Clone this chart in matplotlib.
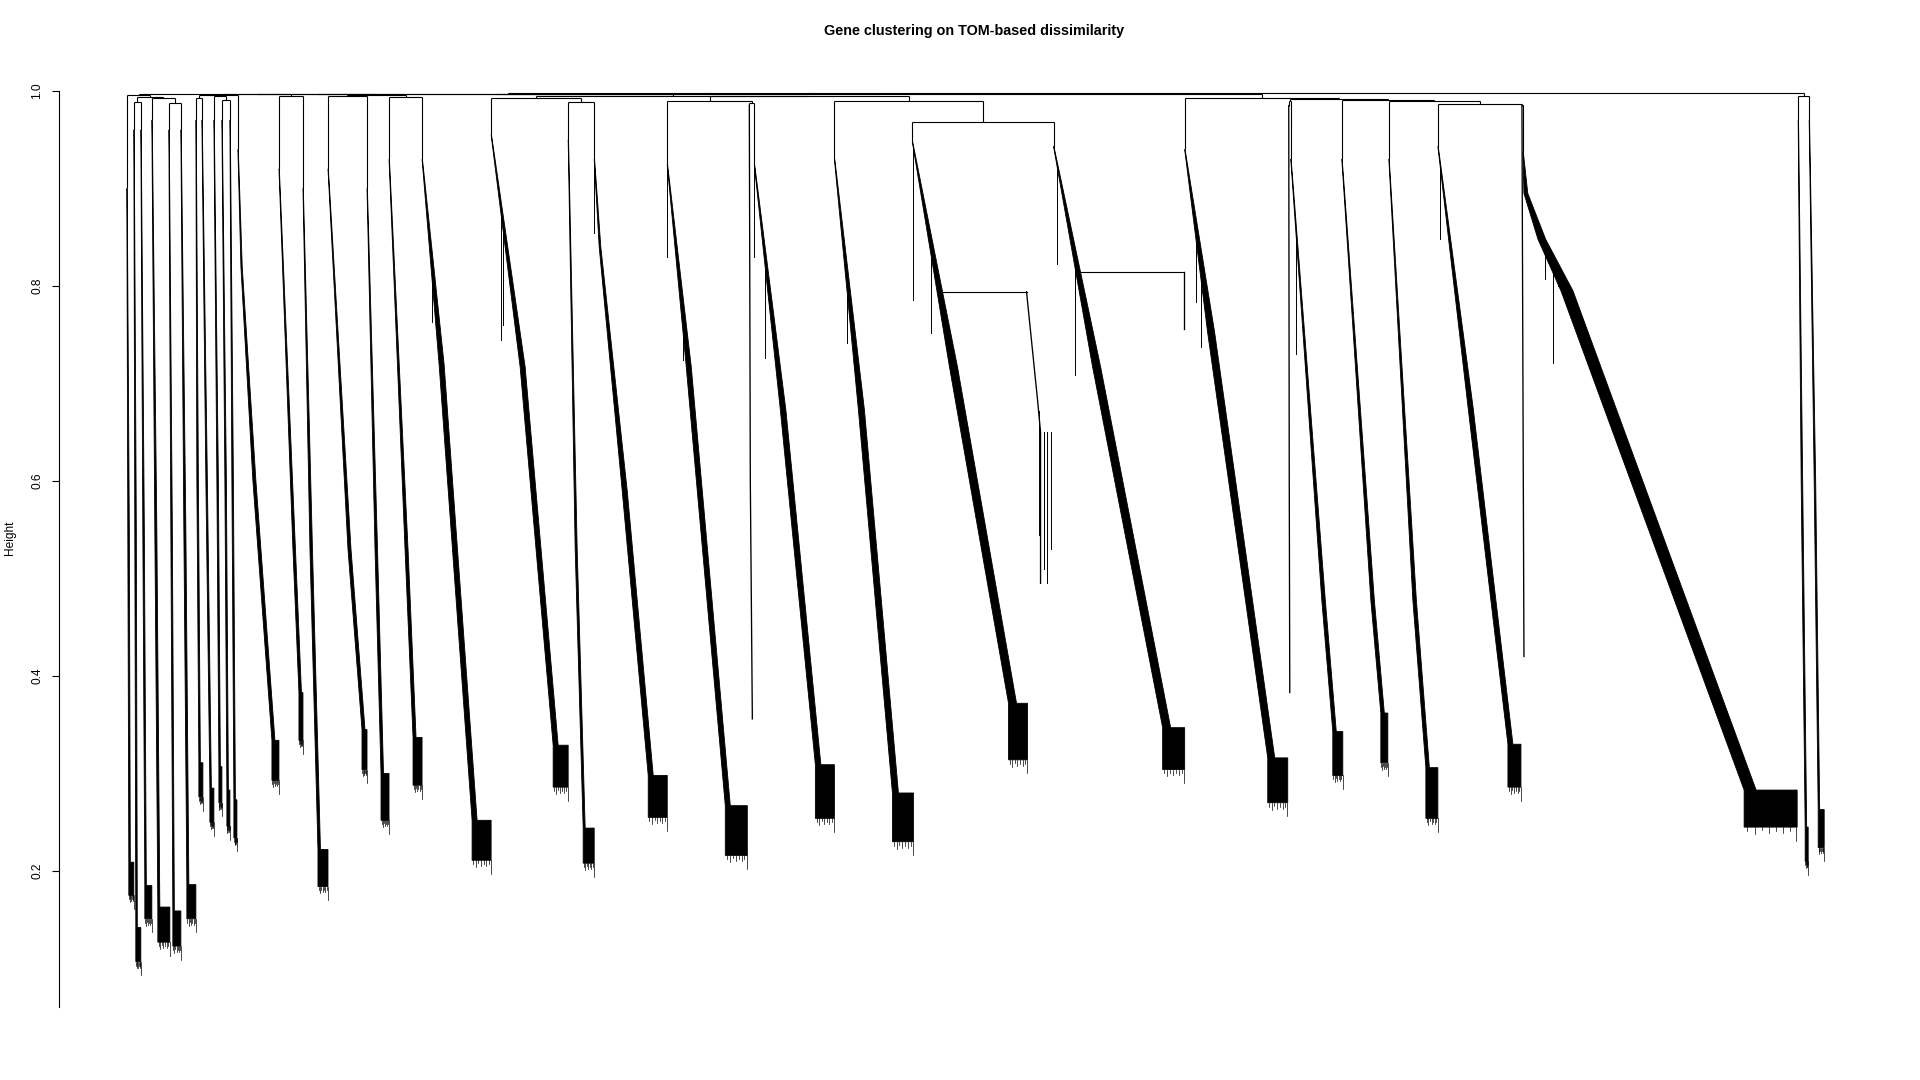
import numpy as np
import matplotlib
matplotlib.use("Agg")
import matplotlib.pyplot as plt
from matplotlib.patches import Polygon

plt.rcParams['font.family'] = ['Liberation Sans', 'DejaVu Sans']

title = "Gene clustering on TOM-based dissimilarity"
y_label = "Height"
y_ticks = [0.2, 0.4, 0.6, 0.8, 1.0]
y_tick_labels = ["0.2", "0.4", "0.6", "0.8", "1.0"]
n_genes = 1695

# ---- modules (gene-order positions and heights) ----
mod_names = ["A", "B", "C", "D", "E", "F", "G", "H", "I", "J", "K", "L", "M", "N", "O",
             "P", "Q", "R", "S", "T", "U", "V", "W", "X", "Y", "Z", "Zs", "AA", "AAs",
             "AB", "AC", "AD", "AE", "AF", "AG", "AH", "BIG", "R35", "R36"]
mod_x = [0, 7, 14, 25, 42, 54, 69, 75, 87, 95, 103, 111, 152, 176, 201,
         240, 262, 295, 364, 441, 467, 540, 622, 627, 707, 785, 899, 926, 1056,
         1057, 1161, 1163, 1214, 1261, 1310, 1394, 1395, 1670, 1681]
mod_top = [0.90, 0.96, 0.96, 0.97, 0.96, 0.96, 0.97, 0.97, 0.97, 0.97, 0.97, 0.94, 0.92, 0.90, 0.92,
           0.90, 0.93, 0.93, 0.955, 0.95, 0.93, 0.924, 0.985, 0.924, 0.93, 0.947, 0.794, 0.943, 0.814,
           0.94, 0.985, 0.93, 0.93, 0.93, 0.943, 0.985, 0.937, 0.97, 0.97]
mod_mid_x = [1, 8, 16, 28, 44, 57, 70, 79, 90, 98, 105, 126, 166, 183, 221,
             248, 278, 312, 393, 448, 495, 559, 623, 653, 731, 822, 910, 965, 1056,
             1080, 1161.5, 1194, 1243, 1285, 1340, 1395, 1433, 1673, 1686]
mod_mid_h = [0.55, 0.55, 0.55, 0.55, 0.55, 0.55, 0.60, 0.60, 0.60, 0.60, 0.60, 0.60, 0.53, 0.53, 0.53,
             0.53, 0.53, 0.72, 0.717, 0.53, 0.59, 0.717, 0.60, 0.673, 0.673, 0.717, 0.683, 0.717, 0.78,
             0.752, 0.60, 0.478, 0.478, 0.478, 0.677, 0.70, 0.795, 0.60, 0.60]
mod_knee_x = [2, 9, 18, 31, 46, 60, 72, 83, 92, 100, 107, 145, 172, 191, 235,
              254, 286, 345, 426, 456, 521, 598, 625, 688, 765, 881, 913, 1035, 1056,
              1140, 1162, 1205, 1253, 1298, 1380, 1396, 1616, 1677, 1690]
mod_knee_h = [0.209, 0.142, 0.185, 0.163, 0.159, 0.186, 0.311, 0.285, 0.307, 0.283, 0.273, 0.334, 0.383, 0.222, 0.345,
              0.300, 0.337, 0.252, 0.329, 0.244, 0.298, 0.267, 0.360, 0.309, 0.280, 0.372, 0.650, 0.347, 0.757,
              0.316, 0.390, 0.343, 0.362, 0.306, 0.330, 0.425, 0.283, 0.245, 0.263]
mod_right_x = [7, 14, 25, 43, 54, 69, 76, 87, 95, 103, 110, 152, 176, 201, 240,
               262, 295, 364, 441, 467, 540, 620, 625, 707, 786, 900, 913, 1057, 1056,
               1160, 1162, 1215, 1260, 1310, 1393, 1396, 1669, 1680, 1696]
mod_bottom_h = [0.175, 0.107, 0.151, 0.127, 0.123, 0.151, 0.276, 0.250, 0.270, 0.246, 0.234, 0.293, 0.334, 0.184, 0.304,
                0.252, 0.288, 0.211, 0.286, 0.208, 0.255, 0.216, 0.356, 0.254, 0.230, 0.314, 0.495, 0.304, 0.756,
                0.270, 0.383, 0.298, 0.311, 0.254, 0.286, 0.420, 0.245, 0.210, 0.224]
mod_band = [1.5, 1.5, 1.5, 2, 1.5, 2, 1.5, 1.5, 1.5, 1.5, 1.5, 3, 2.5, 2.5, 3,
            2.5, 3, 5, 5, 2, 5, 5, 0, 5.5, 6, 8, 0, 8, 0,
            7, 0, 3.5, 3.5, 3.5, 5, 0, 12, 1.5, 1.5]

# extra bends in the upper part of a band
bend_module = [36, 36, 11, 20]
bend_x = [1396, 1410, 114, 472]
bend_h = [0.895, 0.848, 0.82, 0.84]

# ---- tree above the modules (R hclust convention: negative = module) ----
merge_a = [-2, -5, -4, 1, -1, -7, -10, -9, 6, -20, -23, -22, -26, -25, -31, -36, -35, -34,
           -33, 15, -30, 9, -13, 22, -15, -17, 25, 24, -19, 12, 29, 28, 32, 5, -38, 34]
merge_b = [-3, -6, 2, 3, 4, -8, -11, 7, 8, -21, -24, 11, -28, 13, -32, -37, 16, 17,
           18, 19, 20, -12, -14, 23, -16, -18, 26, 27, 10, 14, 30, 31, 21, 33, -39, 35]
merge_h = [0.989, 0.988, 0.993, 0.994, 0.996, 0.993, 0.991, 0.995, 0.996, 0.989, 0.988, 0.990,
           0.968, 0.990, 0.990, 0.986, 0.987, 0.990, 0.991, 0.992, 0.993, 0.9962, 0.995, 0.9964,
           0.995, 0.994, 0.996, 0.9966, 0.993, 0.9945, 0.9952, 0.9968, 0.997, 0.9972, 0.995, 0.9975]

# side branches hanging off a module band
side_module = [26, 28]
side_from_x = [814, 948]

# stray hanging lines off the bands: module, x, lowest height
hair_module = [17, 18, 18, 20, 20, 21, 21, 23, 23, 24, 25, 25, 27, 27, 29, 29, 31, 32, 34, 36, 36, 36,
               26, 26, 26, 26]
hair_x = [305, 374, 376, 485, 467, 540, 556, 627, 638, 720, 786, 804, 929, 947, 1068, 1073, 1168, 1221, 1312, 1417, 1425, 1430,
          911, 916, 919, 923]
hair_low = [0.763, 0.745, 0.76, 0.71, 0.854, 0.83, 0.724, 0.83, 0.726, 0.742, 0.786, 0.752, 0.823, 0.709, 0.784, 0.737, 0.73, 0.83, 0.848, 0.807, 0.721, 0.80,
            0.545, 0.51, 0.495, 0.53]

# ---------------------------------------------------------------------------
fig = plt.figure(figsize=(19.2, 10.8), dpi=100)
W, H = 1920, 1080
ax = fig.add_axes([59 / W, 1 - 1007 / H, (1890 - 59) / W, (1007 - 59) / H])
pad = 0.04 * (n_genes - 1)
ax.set_xlim(-pad, n_genes - 1 + pad)
ax.set_ylim(0.0605, 1.0328)

lw = 0.8
col = "black"

n_merge = len(merge_h)
node_x = {}


def get_x(i):
    if i < 0:
        return mod_x[-i - 1]
    return node_x[i]


def get_h(i):
    if i < 0:
        return mod_top[-i - 1]
    return merge_h[i - 1]


for k in range(n_merge):
    node_x[k + 1] = (get_x(merge_a[k]) + get_x(merge_b[k])) / 2.0

for k in range(n_merge):
    a, b = merge_a[k], merge_b[k]
    h = merge_h[k]
    xa, xb = get_x(a), get_x(b)
    ax.plot([xa, xb], [h, h], color=col, lw=lw, solid_capstyle='butt')
    ax.plot([xa, xa], [h, get_h(a)], color=col, lw=lw, solid_capstyle='butt')
    ax.plot([xb, xb], [h, get_h(b)], color=col, lw=lw, solid_capstyle='butt')


def band_path(m):
    xs = [mod_x[m]]
    hs = [mod_top[m]]
    for bm, bx, bh in zip(bend_module, bend_x, bend_h):
        if bm == m:
            xs.append(bx)
            hs.append(bh)
    xs += [mod_mid_x[m], mod_knee_x[m]]
    hs += [mod_mid_h[m], mod_knee_h[m]]
    return xs, hs


hair_frac = [0.06, 0.2, 0.33, 0.47, 0.6, 0.74, 0.87, 0.98]
hair_len = [0.004, 0.007, 0.003, 0.006, 0.004, 0.006, 0.004, 0.014]

for m in range(len(mod_x)):
    xs, hs = band_path(m)
    kx, kh = mod_knee_x[m], mod_knee_h[m]
    rx, bh = mod_right_x[m], mod_bottom_h[m]
    w = mod_band[m]
    if w == 0:
        ax.plot(xs + [rx, rx], hs + [kh, bh], color=col, lw=lw * 1.2)
        continue
    wk = min(w, max(rx - kx, 0.5))
    # band width grows from a single line at the top to w at the mid point
    top_h, mid_h = hs[0], mod_mid_h[m]
    right = []
    for x, h in zip(xs, hs):
        f = min(1.0, (top_h - h) / max(top_h - mid_h, 1e-6))
        right.append((x + 0.4 + (w - 0.4) * f, h))
    right[-1] = (kx + wk, kh)
    pts = list(zip(xs, hs)) + [(kx, bh), (rx, bh), (rx, kh)] + right[::-1]
    ax.add_patch(Polygon(pts, closed=True, fc=col, ec=col, lw=0.6))
    bw = rx - kx
    if bw >= 3:
        for f, L in zip(hair_frac, hair_len):
            hx = kx + f * bw
            ax.plot([hx, hx], [bh, bh - L], color=col, lw=0.5)

for m, fx in zip(side_module, side_from_x):
    h = mod_top[m]
    ax.plot([fx, mod_x[m]], [h, h], color=col, lw=lw)

for m, hx, lo in zip(hair_module, hair_x, hair_low):
    xs, hs = band_path(m)
    top = float(np.interp(hx, xs, hs)) if xs[-1] > xs[0] else mod_top[m]
    if top > lo:
        ax.plot([hx, hx], [top, lo], color=col, lw=0.7)

# axes styling
for s in ["top", "right", "bottom"]:
    ax.spines[s].set_visible(False)
ax.spines["left"].set_bounds(0.0605, 1.0)
ax.spines["left"].set_linewidth(0.8)
ax.set_xticks([])
ax.set_yticks(y_ticks)
ax.set_yticklabels(y_tick_labels, rotation=90, va="center", fontsize=8.6)
ax.tick_params(axis="y", direction="out", length=5.2, width=0.8, pad=6)

fig.text(10 / W, 1 - 538 / H, y_label, rotation=90, ha="center", va="center", fontsize=8.6)
fig.text(974 / W, 1 - 31 / H, title, ha="center", va="center", fontsize=10.4, fontweight="bold")

fig.savefig("out.png", dpi=100)
